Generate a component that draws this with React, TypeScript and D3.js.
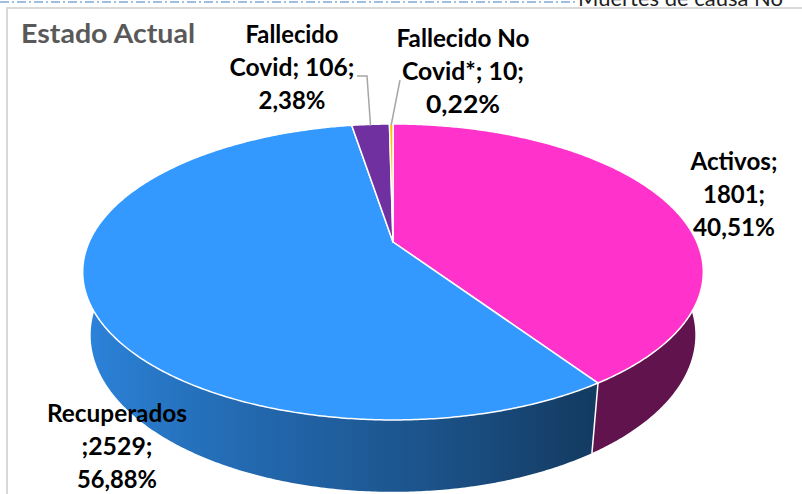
import React, { useEffect, useRef } from 'react';
import * as d3 from 'd3';

// slices, clockwise from 12 o'clock
const categories = ['Activos', 'Recuperados', 'Fallecido Covid', 'Fallecido No Covid*'];
const values = [1801, 2529, 106, 10];
const percentLabels = ['40,51%', '56,88%', '2,38%', '0,22%'];
const labelLines = [
  ['Activos;', '1801;', '40,51%'],
  ['Recuperados', ';2529;', '56,88%'],
  ['Fallecido', 'Covid; 106;', '2,38%'],
  ['Fallecido No', 'Covid*; 10;', '0,22%'],
];
const sliceColors = ['#ff33cc', '#3399ff', '#7030a0', '#ffc000'];

const W = 802;
const H = 494;

// label placement (center x, first baseline, line widths)
const labelLayout = [
  { x: 734, y: 170, widths: [87, 62, 82], leader: null as null | number[][] },
  { x: 117, y: 422, widths: [140, 71, 80], leader: null },
  { x: 292, y: 43, widths: [93, 125, 67], leader: [[357, 76], [367, 76]] },
  { x: 463, y: 47, widths: [133, 122, 74], leader: [[400, 80]] },
];

export default function App() {
  const svgRef = useRef<SVGSVGElement>(null);

  useEffect(() => {
    if (!svgRef.current) return;
    const svg = d3.select(svgRef.current);
    svg.selectAll('*').remove();

    // perspective projection of a flat cylinder
    const cx = 393, cy = 242;
    const s = 0.467, c = Math.sqrt(1 - s * s);
    const D = 4.367, f = 1327, depthH = 0.237;
    const project = (a: number, down: number) => {
      const X = Math.sin(a), Z = -Math.cos(a);
      const hh = down * depthH;
      const depth = D + hh * s - Z * c;
      return [cx + (f * X) / depth, cy + ((hh * c + s * Z) * f) / depth, depth] as [number, number, number];
    };

    const pie = d3.pie<number>().sort(null).value(d => d)
      .startAngle(0).endAngle(Math.PI * 2);
    const arcs = pie(values);

    const shade = d3.scaleLinear().domain([-1, 0, 0.55]).range([0.88, 0.57, 0.38]).clamp(true);
    const darken = (col: string, k: number) => {
      const r = d3.rgb(col);
      return d3.rgb(r.r * k, r.g * k, r.b * k).formatHex();
    };

    const defs = svg.append('defs');

    // frame
    svg.append('rect').attr('width', W).attr('height', H).attr('fill', '#fff');
    svg.append('line').attr('x1', 0).attr('x2', 575).attr('y1', 2).attr('y2', 2)
      .attr('stroke', '#7fa9d9').attr('stroke-width', 1.5).attr('stroke-dasharray', '9,3,2,3');
    svg.append('text').attr('x', 578).attr('y', 6)
      .attr('font-family', 'Lato, "Open Sans", sans-serif').attr('font-size', 22)
      .attr('fill', '#222').text('Muertes de causa No');
    svg.append('rect').attr('x', 7).attr('y', 8).attr('width', 900).attr('height', 600)
      .attr('fill', 'none').attr('stroke', '#d9d9d9').attr('stroke-width', 2);

    svg.append('text').attr('x', 21).attr('y', 43)
      .attr('font-family', 'Lato, "Open Sans", sans-serif').attr('font-weight', 700)
      .attr('font-size', 26).attr('fill', '#595959')
      .attr('textLength', 174).attr('lengthAdjust', 'spacingAndGlyphs')
      .text('Estado Actual');

    const g = svg.append('g');
    const line = d3.line();
    const step = Math.PI / 360;

    // front wall: one band per slice, shaded with a horizontal gradient
    const vis0 = Math.PI / 2, vis1 = Math.PI * 1.5;
    const gx0 = 70, gx1 = 720;
    arcs.forEach((arc, i) => {
      const a0 = Math.max(arc.startAngle, vis0);
      const a1 = Math.min(arc.endAngle, vis1);
      if (a1 <= a0) return;
      const grad = defs.append('linearGradient').attr('id', `side-${i}`)
        .attr('gradientUnits', 'userSpaceOnUse')
        .attr('x1', gx0).attr('x2', gx1).attr('y1', 0).attr('y2', 0);
      const stops = d3.range(vis1, vis0 - 1e-9, -Math.PI / 36).map(a => {
        const p = project(a, 0);
        return { off: (p[0] - gx0) / (gx1 - gx0), col: darken(sliceColors[i], shade(Math.sin(a))) };
      });
      stops.forEach(st => {
        grad.append('stop').attr('offset', Math.max(0, Math.min(1, st.off))).attr('stop-color', st.col);
      });
      const top: [number, number][] = [];
      const bot: [number, number][] = [];
      const n = Math.max(2, Math.ceil((a1 - a0) / step));
      for (let j = 0; j <= n; j++) {
        const a = a0 + ((a1 - a0) * j) / n;
        const p = project(a, 0), q = project(a, 1);
        top.push([p[0], p[1]]);
        bot.push([q[0], q[1]]);
      }
      g.append('path').attr('d', line([...top, ...bot.reverse()]) + 'Z')
        .attr('fill', `url(#side-${i})`);
    });

    // white edges where slices meet on the visible wall
    arcs.forEach(arc => {
      const a = arc.endAngle;
      if (a > vis0 + 0.2 && a < vis1 - 0.2) {
        const p = project(a, 0), q = project(a, 1);
        g.append('line').attr('x1', p[0]).attr('y1', p[1]).attr('x2', q[0]).attr('y2', q[1])
          .attr('stroke', '#fff').attr('stroke-width', 1.5);
      }
    });

    // top face
    arcs.forEach((arc, i) => {
      const pts: [number, number][] = [[cx, cy]];
      const n = Math.max(2, Math.ceil((arc.endAngle - arc.startAngle) / step));
      for (let j = 0; j <= n; j++) {
        const a = arc.startAngle + ((arc.endAngle - arc.startAngle) * j) / n;
        const p = project(a, 0);
        pts.push([p[0], p[1]]);
      }
      g.append('path').attr('d', line(pts) + 'Z')
        .attr('fill', sliceColors[i]).attr('stroke', '#fff').attr('stroke-width', 1.5)
        .attr('stroke-linejoin', 'round');
    });

    // labels and leader lines
    arcs.forEach((arc, i) => {
      const lay = labelLayout[i];
      if (lay.leader) {
        const mid = project((arc.startAngle + arc.endAngle) / 2, 0);
        const pts = [...lay.leader, [mid[0], mid[1] + 1]] as [number, number][];
        svg.append('path').attr('d', line(pts)).attr('fill', 'none')
          .attr('stroke', '#a6a6a6').attr('stroke-width', 1.5);
      }
      labelLines[i].forEach((t, j) => {
        svg.append('text')
          .attr('x', lay.x).attr('y', lay.y + j * 33)
          .attr('text-anchor', 'middle')
          .attr('font-family', 'Lato, "Open Sans", sans-serif').attr('font-weight', 700)
          .attr('font-size', 25).attr('fill', '#000')
          .attr('textLength', lay.widths[j]).attr('lengthAdjust', 'spacingAndGlyphs')
          .text(t);
      });
    });
  }, []);

  return (
    <svg
      ref={svgRef}
      width={W}
      height={H}
      style={{ position: 'absolute', left: 0, top: 0, display: 'block' }}
      aria-label={`Estado Actual: ${categories.map((cat, i) => `${cat} ${percentLabels[i]}`).join(', ')}`}
    />
  );
}
